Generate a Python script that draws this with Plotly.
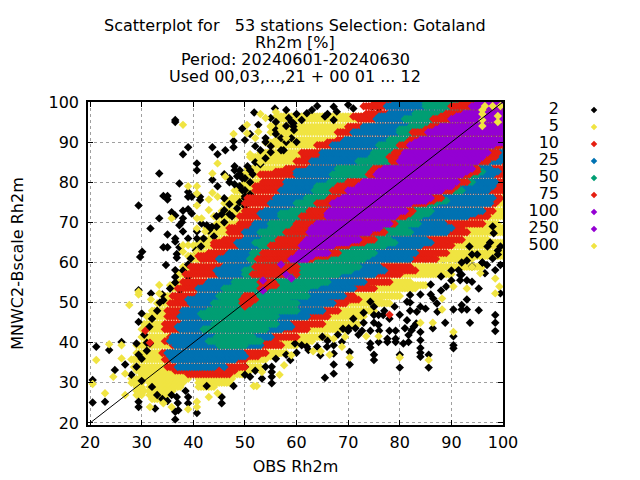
import numpy as np
import plotly.graph_objects as go

N = None
ROW_Y = [32.15,33.05,33.95, 35.85,36.65,37.45, 39.35,40.4,41.45, 43.35,44,44.65, 46.55,47.25,47.95,
         49.85,50.75,51.65, 53.55,54.35,55.15, 57.05,58,58.95, 60.85,61.6,62.35, 64.25,64.95,65.65,
         67.55,68.6,69.65, 71.55,72.2,72.85, 74.75,75.4,76.05, 77.95,79,80.05, 81.95,82.65,83.35,
         85.25,86.3,87.35, 89.25,89.9,90.55, 92.45,93.15,93.85, 95.75,96.4,97.05, 98.95,99.6]

# Left and right extent of each density class along each row of the binned data
Y5_L = [30,29,28.5, 28,29.5,29, 29,31,30, 30,32,30.5, 31,33,32, 33,35,34, 36,35.5,37, 37,39,38,
        39.5,39,41, 40,42,41.5, 43,42.5,44.5, 44,46,45.5, 46,46.5,47.5, 48,49,50, 49.5,51,50.5, 52,51,53,
        55,54,56, 55,56.5,55, 57,56,58, 63,64]
Y5_R = [50,51,53, 54,56,58, 60,63,66, 70,69,72, 73,71,75, 78,76,80, 83,85,82, 90,88,96,
        94,100,100, 100,100,97, 100,100,99, 100,100,100, 100,100,100, 100,100,100, 100,100,100,
        100,100,100, 100,100,100, 100,100,100, 100,100]
R10_L = [39,36.5,35, 34.5,36,34, 36,34.5,35.5, 34.5,36,34.5, 35,36.5,35, 35.5,37,36, 37,38.5,38, 38.5,40,39.5,
         41.5,41,43, 44,44,46, 47,47,49, 49,50.5,50, 50,51.5,50.5, 52,52,53.5, 53,56,58, 60,61.5,61,
         64,66,68, 68,71,70, 72,71,73.5, 73,75]
R10_R = [47,48,50, 50,52.5,54, 57,56,60, 62,61,65, 66,65,68, 69.5,72,71, 75,73.5,78, 80,83,82,
         87,85.5,89, 90,88.5,92, 93,92,96, 97,95.5,98, 98.5,99,99.5, 100,100,100, 100,100,100, 100,100,100,
         100,100,100, 100,100,100, 100,100,100, 100,100]
B25_L = [N,N,37, 36,35.5,35, 36.5,35.5,36, 37.5,37,38, 37.5,38.5,38, 39.5,39,41, 41,42.5,43, 45,44.5,46,
         45,46.5,47, 49,48.5,50, 50,51.5,52, 53.5,53,54, 55,56.5,56, 57,58,58, 60,60,62.5, 63,65,65,
         67,69,69.5, 71,73,73, 75.5,76,78, 77.5,79]
B25_R = [N,N,46, 48,50,49.5, 53,52,55, 57,59,58.5, 62,61,65, 67,65.5,69, 71,70,73, 75,77,76,
         82,81,83, 84,86,85, 89,90,88.5, 93,94.5,96, 97.5,96.5,98, 97,98,98.5, 98,99,97.5, 99.5,100,100,
         100,100,100, 100,100,100, 100,100,100, 100,100]
G50_L = [N,N,N, N,N,N, 45,43,44.5, 42,45,44, 42,41.5,43, 44,46,45, 46,48,48, 50,50,51.5,
         51,52,51.5, 53,52,53.5, 53,55,55, 57,57,59, 60,62,62, 63.5,64,66.5, 67,69,68, 72,74.5,75,
         76,78,78, 80,80,82, 81,83,83, 85,85]
G50_R = [N,N,N, N,N,N, 50,53,51.5, 54,52.5,56, 56,55,60, 60,58,62, 62,64,66, 68,70.5,72,
         73,74,75, 77,79,78, 82,81,83.5, 84,85.5,86, 87,89,87.5, 92,91,94, 95,96,94.5, 97,98,96,
         100,100,100, 100,100,100, 100,100,100, 100,100]
R75_L = [N,N,N, N,N,N, N,N,N, N,N,N, N,N,N, 49.5,49.5,50, 53,54,53, 51.5,53,52,
         52.5,54,53.5, 55,56.5,56.5, 58,59.5,60, 61,62.5,62.5, 64,66,66.5, 67,68,70, 74,74.5,75, 78.5,78,79,
         80,81.5,82, 82.5,85,86, 86.5,88,89, 90,92]
R75_R = [N,N,N, N,N,N, N,N,N, N,N,N, N,N,N, 51,52,51.5, 54,56,55.5, 58,60,60,
         63,66,68, 70,73,75, 77,76,79, 81,82,82.5, 85,86.5,88, 90,91,93, 93.5,95,95, 97,98.5,99,
         100,100,100, 100,100,100, 100,100,100, 100,100]
P100_L = [N,N,N, N,N,N, N,N,N, N,N,N, N,N,N, N,N,N, N,N,N, N,N,N,
          59,60,60.5, 61,61.5,62, 62.5,63,64, 66,66,66.5, 67,68,69, 70,72,73, 75.5,76,77, 80,80.5,81,
          82,83,84, 85.5,87,88, 90,91,92.5, 94,95]
P100_R = [N,N,N, N,N,N, N,N,N, N,N,N, N,N,N, N,N,N, N,N,N, N,N,N,
          62,63,66, 67,70,72, 74,76,78, 79,79.5,81, 82,85,86, 88,90,91, 92,93,94, 95,96,97,
          98,100,100, 100,100,100, 100,100,100, 100,100]

# Patchy yellow runs under the main cloud
LOW_Y = [31,31,31, 30,30,30, 29,29,29, 28,28, 27,27, 26]
LOW_L = [28,31,41, 28,31.5,41, 29,31.5,41, 29,31.5, 29,31.5, 32]
LOW_R = [30,39,47.5, 30,38,47, 30,37.5,44, 30.5,36, 30,35, 34]

BLACK_X = [36.5,36.5,51.8,55.8,52.6,49.5,39,38,43.7,44.7,46.2,47.8,47.8,40.7,40.7,33.4,37.3,43.7,44.7,
           34.2,35,35,39,39,39.7,41.3,41.3,29.4,38,39,39.7,35.8,36.5,33.4,38,37.8,37.3,31.7,38,35,36.5,36.5,39,
           34.2,35,37.3,30.1,29.7,36.8,36.8,40.7,40.7,41.6,42.6,43.6,44.5,
           46,47,48,49,50,51,47,48,50,51,50,50.5,50,51,46,47,
           54,55,56,57,58.5,59,59.5,59,58,60,59.4,59.4,62,67.2,70,71,74.6,75.9,76.8,67.8,65.5,67.2,
           21.2,23.7,26.1,24.8,26.8,29.4,20.5,20.5,22.9,29.4,29.4,32.6,36.5,36.5,37.1,40.7,39,39,45.5,45.5,47.8,42.6,35.8,36.8,
           55.2,55.2,55.2,55.2,53.3,51,58.8,50,30,29.4,31.8,29.4,34.2,34.7,36.5,36.5,39,37.4,31.6,29,
           65.5,67.2,67.2,70.3,70.3,75,75,80,80,85.6,85.6,84,84,84,84,90.4,90.4,90.4,86.4,88.8,93.6,95.3,90.4,92,92,93,93,98.5,98.5,98.5,
           74.3,74.3,75.9,77.6,77.6,79.2,79.2,80.7,81.7,81.7,82.3,83.2,84,72.7,74.3,75.9,79.2,81.4,82.7,81,75,75.9,76.8,74.3,87.2,87.3,86.5,81.4,83.3,82,
           93,91.7,94,95.3,99.5,96.5,96.9,91.4,91.7,99.5,98.5,59.7,61,62.3,64.6,65.9,67.2,67.2,68.8,70.1,71.4,
           98.2,97.5,93.5,94,96,99,98,92,
           48,49,48.5,49.5,50.5,51,52,51.5,49,49.5,50,49,48.5,47,46,45.5,47.5,44.5,46,44,43,42,41.5,40.5,39.5,39,38,36.5,35.5,34,33.5,33,32,31.5,30.5,31,31,30,29,28,30,32,33,34,35,37,38.5,
           55,56,56,57,57.5,55,54,53,53,54,52,50,51,58,58,60,61,63,64,66,
           50,52,54,56,58,60,62,64,66,68,70,72,73,75,76,78,78,80,82,84,85,86,88,89,90,92,94,96,98,99,99.5,97,95,93,90,88,86,84,82,79,77,75,73,71,69,65]
BLACK_Y = [95.5,95,97.4,98.4,94.3,93.4,88.7,87,88.7,87,88,88.7,90.3,84.7,83,82.2,79.7,80.6,79,
           76.6,76.6,75.7,77.6,76.4,76.4,76.4,75.6,74.2,72.9,73.3,72.2,72.5,71.7,71,71,70,69.3,68.5,67.7,67,66,65.2,66,
           63.8,63.8,63.8,62.7,61.4,62.1,61.2,67.7,66,69.7,69.3,68.9,68.9,
           82,81,83,82,81,80,80,79.5,78,77,76,75,74,75,73,72,
           90,89,92,88,96,95,93,91,90,90,94.7,93.9,97.2,98.8,99.3,98.4,98.8,98.4,99.3,97.6,96.4,95.5,
           39,38.2,40.2,33.2,34.6,37,30.7,25.1,25.3,25.3,24,23.6,20.9,22.8,23.2,22.5,26.5,24.9,26.5,24.9,29.2,29.2,27,26.5,
           29.9,34,32.7,31.5,31.1,31.5,35.7,34,47.3,45.2,52.3,53.1,50.6,59.4,58.1,56.4,56.4,53.1,39.8,39.8,
           31.3,32.3,34.6,34.6,37.7,37,35.7,33.8,37,37,33.8,40.6,38.7,37.5,36.5,41.6,39.4,38.6,43.6,45,45,48.1,48.3,49.4,48.3,50.8,48.3,46.9,45,42.9,
           39.8,38.8,40.2,41,40.2,41,40.2,39.8,40.2,41.9,43.1,44.8,42.7,43,43,44.4,43,45.6,44,43.6,46.9,46.9,46.9,50.2,49.8,47.7,51,50.2,47.7,51.9,
           55.6,56.9,55.2,53.5,52.3,57.3,59.4,58.1,55.6,59.4,58.1,39.8,39.4,38.2,36.9,39,37.3,39.4,40.2,43.6,43.6,
           67.3,65,64,62,60,62,69,60,
           84,83,81.5,81,84,83,85,82,79,78,76.5,75,73.5,74.5,76,72,71.5,71.5,70,66.5,68,66,64,63,61,59.5,58,55,53.5,52,50,48,46,44,42,40,38,36,34,32,30.5,29,27,26,25.5,25,28,
           96,95,93,91,88,87.5,86,84.5,88,91,89,90.5,92,94,98,97,95.5,98,99,97,
           32,33,34,36,37,37.5,39,39,40.5,42,43,42,45,45,43,43,46,47,48,49,48.5,52,53,54,55.5,57,59,60,61,63,64,64,62,60.5,58,56.5,54.5,52,50,49,48,49,47.5,46,43.5,41.5]

YELLOW_X = [38,47.8,50.4,50.4,52.6,39,40.7,40.7,43.7,44.7,46.2,43.7,44.7,43,40.7,43,35.8,40.7,41.6,40.7,42.3,39,38,40.7,38,
            21.2,23.7,26.1,26.1,24.5,26.8,20.5,22.9,26.8,29.4,29.4,27.6,31.8,33.4,33.4,39,40.7,40.7,43,35.8,34.2,31.6,44.7,51.7,52.3,56.7,57.6,53.3,
            70.3,80,85.6,90.4,86.4,59,63.2,64.7,66.4,67.2,69.4,68.8,73.5,75.9,84,88.2,98.5,98.5,99.3,90.4,93,88.2,95.6,94,
            53,54,55,52,56,57,58,51,53]
YELLOW_Y = [94.3,92,94.3,92.2,92.6,79,79,77.2,82.2,84.7,81.4,77.4,76.4,75.7,74.2,73.1,71,71,71,68.5,67.7,64.3,64.3,62.7,62.7,
            35.7,39.6,39.4,36.1,31.5,32.3,29.7,27.4,27,52,52.7,49.4,50.8,54.4,52.3,23.4,25.3,24,26.5,24,24.9,24,27.4,29.2,29.2,32,34.4,32.7,
            36.3,36.3,35.7,42.7,45,36.9,37.9,37.9,37,41,41.5,39,41.6,41.6,45,48.3,56,52.3,54,54,53.5,51,57.3,58.9,
            97,96,94,91,97.5,93,91,87,85]

RED_BLOB_X = [30.7,31.6,50,50.5,56,57,60,45,97,99,88,78]
RED_BLOB_Y = [43,40,49,51,57,58.5,57,33,90,89,96,47]
PURPLE_BLOB_X = [53.5,53.5,57,58,59]
PURPLE_BLOB_Y = [55.5,53,59.5,57,56]
TOP_YELLOW_X = [96,96,96,96,99,99,98,99.5,96.5]
TOP_YELLOW_Y = [94,95.5,97,98,95,96.5,99,99,99]

LEGEND_LABELS = ["2", "5", "10", "25", "50", "75", "100", "250", "500"]
LEGEND_COLORS = ["#000000", "#F0E442", "#E51E10", "#0072B2", "#009E73", "#E51E10", "#9400D3", "#9400D3", "#F0E442"]

TITLE_LINES = ["Scatterplot for\u00a0\u00a0\u00a053 stations Selection: Gotaland", "Rh2m [%]",
               "Period: 20240601-20240630", "Used 00,03,...,21 + 00 01 ... 12"]

# The page body adds 8px on the top and left, so the figure is 8px smaller than the window
OFF = 8
W, H = 640 - OFF, 480 - OFF


def expand(rows, left, right):
    xs, ys = [], []
    for y, lo, hi in zip(rows, left, right):
        if lo is None:
            continue
        for x in np.arange(lo, hi + 0.01, 0.5):
            xs.append(float(x))
            ys.append(y)
    return xs, ys


def layer(x, y, color):
    return go.Scatter(x=x, y=y, mode="markers", showlegend=False, hoverinfo="skip",
                      marker=dict(symbol="diamond", size=6.5, color=color, line=dict(width=0)))


fig = go.Figure()
fig.add_trace(layer(*expand(ROW_Y, Y5_L, Y5_R), "#F0E442"))
fig.add_trace(layer(*expand(LOW_Y, LOW_L, LOW_R), "#F0E442"))
fig.add_trace(layer(BLACK_X, BLACK_Y, "#000000"))
fig.add_trace(layer(YELLOW_X, YELLOW_Y, "#F0E442"))
fig.add_trace(layer(*expand(ROW_Y, R10_L, R10_R), "#E51E10"))
fig.add_trace(layer(*expand(ROW_Y, B25_L, B25_R), "#0072B2"))
fig.add_trace(layer(*expand(ROW_Y, G50_L, G50_R), "#009E73"))
fig.add_trace(layer(*expand(ROW_Y, R75_L, R75_R), "#E51E10"))
fig.add_trace(layer(RED_BLOB_X, RED_BLOB_Y, "#E51E10"))
fig.add_trace(layer(*expand(ROW_Y, P100_L, P100_R), "#9400D3"))
fig.add_trace(layer(PURPLE_BLOB_X, PURPLE_BLOB_Y, "#9400D3"))
fig.add_trace(layer(TOP_YELLOW_X, TOP_YELLOW_Y, "#F0E442"))
fig.add_trace(go.Scatter(x=[20, 100], y=[20, 100], mode="lines", showlegend=False, hoverinfo="skip",
                         line=dict(color="black", width=1)))

# Legend drawn on its own axis pair to the right of the plot
leg_y = [110 + 17 * i for i in range(len(LEGEND_LABELS))]
fig.add_trace(go.Scatter(x=[559] * 9, y=leg_y, mode="text", text=LEGEND_LABELS, textposition="middle left",
                         textfont=dict(size=16, color="black"), xaxis="x2", yaxis="y2",
                         showlegend=False, hoverinfo="skip", cliponaxis=False))
fig.add_trace(go.Scatter(x=[594] * 9, y=leg_y, mode="markers", xaxis="x2", yaxis="y2",
                         marker=dict(symbol="diamond", size=5, color=LEGEND_COLORS, line=dict(width=0)),
                         showlegend=False, hoverinfo="skip"))

axis = dict(tickmode="array", tickvals=list(range(20, 101, 10)), ticks="inside", ticklen=5, tickcolor="black",
            showline=True, linecolor="black", linewidth=1.5, mirror="allticks", showgrid=True,
            gridcolor="#a0a0a0", griddash="3px,3px", gridwidth=1, zeroline=False,
            tickfont=dict(size=16, color="black"))

fig.update_layout(
    width=W, height=H, margin=dict(l=0, r=0, t=0, b=0, pad=0, autoexpand=False), autosize=False,
    paper_bgcolor="white", plot_bgcolor="white", showlegend=False,
    font=dict(family="DejaVu Sans", color="black"),
    xaxis=dict(axis, domain=[(88 - OFF) / W, (503 - OFF) / W], range=[19.6, 100], ticklabelstandoff=2,
               title=dict(text="OBS Rh2m", font=dict(size=16), standoff=10)),
    yaxis=dict(axis, domain=[55 / H, 378 / H], range=[19.5, 100], ticklabelstandoff=4,
               title=dict(text="MNWC2-Bscale Rh2m", font=dict(size=16), standoff=28)),
    xaxis2=dict(domain=[(510 - OFF) / W, 1], range=[510, 640], visible=False, fixedrange=True, anchor="y2"),
    yaxis2=dict(domain=[0, 1], range=[480, OFF], visible=False, fixedrange=True, anchor="x2"),
    annotations=[dict(text=t, x=(295 - OFF) / W, y=1 - (25 - OFF + 17 * i) / H, xref="paper", yref="paper",
                      showarrow=False, xanchor="center", yanchor="middle", font=dict(size=16, color="black"))
                 for i, t in enumerate(TITLE_LINES)],
)
fig.write_html("out.html")
